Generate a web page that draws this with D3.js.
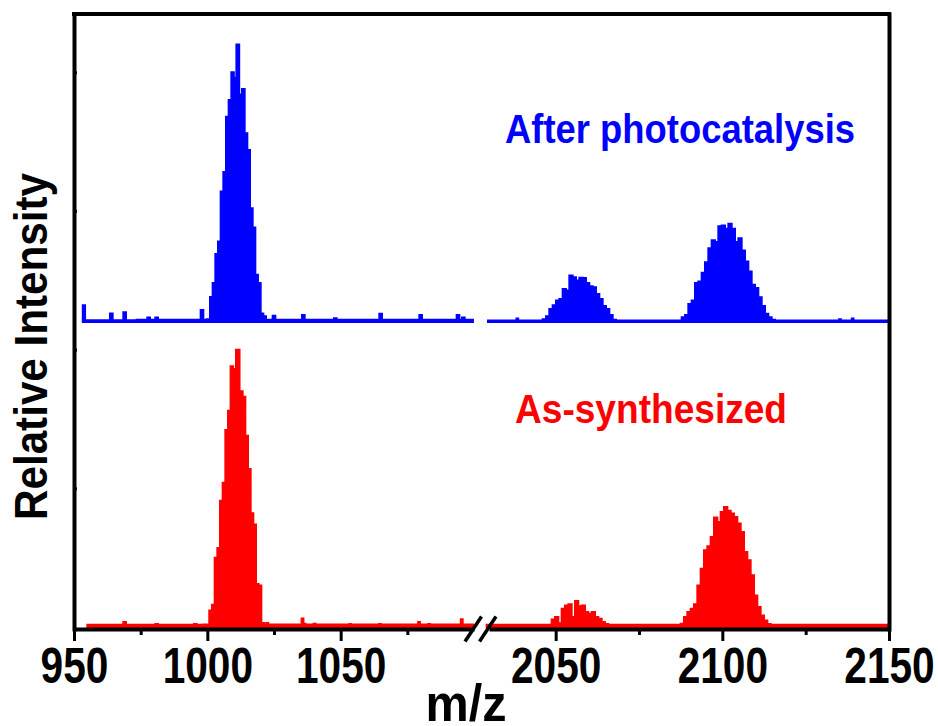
<!DOCTYPE html>
<meta charset="utf-8">

<!-- Load d3.js -->
<script src="https://d3js.org/d3.v7.min.js"></script>

<style>
  body { margin: 0; background: #fff; }
  text { font-family: Arial, "Liberation Sans", sans-serif; font-weight: bold; }
</style>

<!-- Create a div where the graph will take place -->
<div id="my_dataviz"></div>

<script>

// spectra: [m/z, relative intensity in %]
var blueLow = [
  [953.3, 6], [955, 0.6], [963, 0.6], [964, 3], [965, 0.6], [968, 0.6], [969, 3.5], [970, 0.6],
  [977, 0.8], [978, 1.6], [979, 0.8], [980, 0.8], [981, 1.6], [982, 0.8], [997, 0.8], [998, 4.3],
  [999, 0.8], [1000.5, 1], [1001.5, 9], [1002.5, 14], [1003.5, 24.5], [1004.5, 29], [1005.5, 47],
  [1006.5, 54], [1007.5, 74], [1008.5, 80], [1009.5, 90], [1010.4, 88], [1011.4, 100], [1012.5, 82],
  [1013.5, 84], [1014.5, 68], [1015.5, 62], [1016.5, 41], [1017.5, 34], [1018.5, 17], [1019.5, 14],
  [1020.5, 3], [1021.5, 2], [1022.5, 0.8], [1024, 0.8], [1025, 2.2], [1026, 0.8], [1035, 0.8],
  [1036, 2.5], [1037, 0.8], [1047, 0.8], [1048, 1.3], [1049, 0.8], [1064, 0.8], [1065, 2.9],
  [1066, 0.8], [1079, 0.8], [1080, 2.5], [1081, 0.8], [1093, 0.8], [1094, 2.5], [1095, 0.8],
  [1096, 1.6], [1097, 0.8], [1099.6, 0.8]
];

var blueHigh = [
  [2029.7, 0.5], [2038, 0.5], [2038.5, 1.2], [2039, 0.5], [2045.6, 0.5], [2046.6, 1], [2047.6, 2],
  [2048.6, 4.7], [2049.6, 6], [2050.6, 7.7], [2051.6, 8.3], [2052.6, 11.9], [2053.6, 11.3],
  [2054.6, 16.7], [2055.6, 16.1], [2056.6, 14.9], [2057.6, 15.9], [2058.6, 15.8], [2059.6, 14],
  [2060.6, 12.9], [2061.6, 12.5], [2062.6, 10.1], [2063.6, 8.3], [2064.6, 5.7], [2065.6, 4.7],
  [2066.6, 2.5], [2067.6, 0.8], [2068.6, 0.5], [2087.3, 0.5], [2088.3, 1.7], [2089.3, 2.5],
  [2090.3, 6.5], [2091.3, 7.7], [2092.3, 14], [2093.3, 14.6], [2094.3, 17.7], [2095.3, 21.5],
  [2096.3, 26.6], [2097.3, 29.4], [2098.3, 28.8], [2099.3, 34.5], [2100.3, 34.8], [2101.3, 33.6],
  [2102.3, 35.4], [2103.3, 33.6], [2104.3, 28.8], [2105.3, 30.2], [2106.3, 25.7], [2107.3, 21.8],
  [2108.3, 18.2], [2109.3, 13.4], [2110.3, 12.2], [2111.3, 8.9], [2112.3, 5.7], [2113.3, 2.9],
  [2114.3, 1.7], [2115.3, 0.8], [2116.3, 0.5], [2134.8, 0.5], [2135.3, 1], [2135.8, 0.5],
  [2138.6, 0.5], [2139.1, 1.2], [2139.6, 0.5], [2150, 0.5]
];

var redLow = [
  [955, 0.8], [968, 0.8], [969, 1.8], [970, 0.8], [980, 0.8], [981, 1.1], [982, 0.8], [994.5, 0.8],
  [995.5, 1.1], [996.5, 0.8], [1000.2, 0.9], [1001.25, 6], [1002.25, 8], [1003.25, 25], [1004.25, 28.5],
  [1005.25, 45.5], [1006.25, 52], [1007.25, 71], [1008.25, 78], [1009.2, 94], [1010.1, 93],
  [1011.4, 100], [1012.75, 85], [1013.75, 83], [1014.75, 69], [1015.75, 57], [1016.75, 41],
  [1017.75, 37], [1018.75, 15.5], [1019.75, 15], [1020.75, 1.5], [1021.75, 0.9], [1022.5, 1.5],
  [1023.2, 0.9], [1035, 0.9], [1035.7, 3.1], [1036.4, 1.2], [1037.2, 0.9], [1039.5, 0.9],
  [1040.2, 1.2], [1041, 0.9], [1053, 0.9], [1053.6, 1.1], [1054.2, 0.9], [1064, 0.9], [1064.7, 1.1],
  [1065.4, 0.9], [1078.7, 0.9], [1079.4, 1.8], [1080.1, 0.9], [1082.5, 0.9], [1083.2, 1.1],
  [1083.9, 0.9], [1094.7, 0.9], [1095.4, 2.8], [1096.1, 0.9], [1099.6, 0.9]
];

var redHigh = [
  [2029.3, 0.8], [2048.3, 0.8], [2049.3, 2.7], [2050.3, 3.6], [2051.3, 1.4], [2052.3, 6.6],
  [2053.3, 7.8], [2054.3, 8.2], [2055.3, 3.6], [2056.3, 9.4], [2057.3, 7.5], [2058.3, 7.8],
  [2059.3, 5.4], [2060.3, 4.8], [2061.3, 5.4], [2062.3, 3.6], [2063.3, 3], [2064.3, 1.8],
  [2065.3, 1.1], [2066.3, 0.8], [2086, 0.8], [2087, 0.8], [2088, 1.2], [2089, 3.6], [2090, 5.4],
  [2091, 6.6], [2092, 8.2], [2093, 15], [2094, 21], [2095, 27.7], [2096, 29.1], [2097, 32.5],
  [2098, 39.5], [2099, 37.9], [2100, 41.5], [2101, 43.3], [2102, 41.9], [2103, 40.9], [2104, 39.7],
  [2105, 37.3], [2106, 34.3], [2107, 27.1], [2108, 24.1], [2109, 18.7], [2110, 11.4], [2111, 7.2],
  [2112, 4.2], [2113, 2.4], [2114, 1.1], [2115, 0.8], [2150, 0.8]
];

// tick values
var xTicksLow = [950, 1000, 1050], xMinorLow = [975, 1025, 1075];
var xTicksHigh = [2050, 2100, 2150], xMinorHigh = [2075, 2125];
var yTicksLeft = [50, 100, 150, 200];
var yTicksRight = [0, 1, 2, 3, 4];

// stacking offsets of the two spectra
var offsetBlue = 110, offsetRed = 0;

var svg = d3.select("#my_dataviz")
  .append("svg")
    .attr("width", 938)
    .attr("height", 726);

// broken x axis: two scales
var xl = d3.scaleLinear().domain([950, 1100]).range([74, 474]);
var xr = d3.scaleLinear().domain([2030, 2150]).range([489, 889]);
var y = d3.scaleLinear().domain([-0.7, 221]).range([629, 14]);
var y2 = d3.scaleLinear().domain([-1.2, 4.4]).range([629, 14]);

function drawSpectrum(data, x, offset, color) {
  var area = d3.area()
    .curve(d3.curveStep)
    .x(function(d) { return x(d[0]); })
    .y0(y(offset))
    .y1(function(d) { return y(offset + d[1]); });
  svg.append("path")
    .datum(data)
    .attr("d", area)
    .attr("fill", color)
    .attr("stroke", color)
    .attr("stroke-width", 2);
}

drawSpectrum(blueLow, xl, offsetBlue, "#0000ff");
drawSpectrum(blueHigh, xr, offsetBlue, "#0000ff");
drawSpectrum(redLow, xl, offsetRed, "#ff0000");
drawSpectrum(redHigh, xr, offsetRed, "#ff0000");

function styleAxis(g) {
  g.select(".domain").attr("stroke-width", 4).attr("stroke", "#000");
  g.selectAll(".tick line").attr("stroke-width", 3).attr("stroke", "#000");
  g.selectAll("text")
    .attr("y", 54)
    .attr("dy", null)
    .attr("font-size", 50)
    .attr("fill", "#000")
    .attr("textLength", function(d) { return String(d).length * 22.6; })
    .attr("lengthAdjust", "spacingAndGlyphs");
}

// bottom axis, left part
svg.append("g")
  .attr("transform", "translate(0,629)")
  .call(d3.axisBottom(xl).tickValues(xTicksLow).tickFormat(d3.format("d")).tickSize(12).tickSizeOuter(0))
  .call(styleAxis);
svg.append("g")
  .attr("transform", "translate(0,629)")
  .call(d3.axisBottom(xl).tickValues(xMinorLow).tickSize(6).tickFormat(""))
  .call(function(g) { g.select(".domain").remove(); g.selectAll("line").attr("stroke-width", 3); });

// bottom axis, right part
svg.append("g")
  .attr("transform", "translate(0,629)")
  .call(d3.axisBottom(xr).tickValues(xTicksHigh).tickFormat(d3.format("d")).tickSize(12).tickSizeOuter(0))
  .call(styleAxis);
svg.append("g")
  .attr("transform", "translate(0,629)")
  .call(d3.axisBottom(xr).tickValues(xMinorHigh).tickSize(6).tickFormat(""))
  .call(function(g) { g.select(".domain").remove(); g.selectAll("line").attr("stroke-width", 3); });

// left and right frame axes (no labels)
svg.append("g")
  .attr("transform", "translate(74,0)")
  .call(d3.axisRight(y).tickValues(yTicksLeft).tickSize(3).tickSizeOuter(0).tickFormat(""))
  .call(function(g) {
    g.select(".domain").attr("stroke-width", 4).attr("stroke-linecap", "square");
    g.selectAll("line").attr("stroke-width", 3);
  });
svg.append("g")
  .attr("transform", "translate(889,0)")
  .call(d3.axisRight(y2).tickValues(yTicksRight).tickSize(2).tickSizeOuter(0).tickFormat(""))
  .call(function(g) {
    g.select(".domain").attr("stroke-width", 4).attr("stroke-linecap", "square");
    g.selectAll("line").attr("stroke-width", 3);
  });

// top frame line
svg.append("line")
  .attr("x1", xl.range()[0]).attr("x2", xr.range()[1])
  .attr("y1", y.range()[1]).attr("y2", y.range()[1])
  .attr("stroke", "#000").attr("stroke-width", 4).attr("stroke-linecap", "square");

// axis break marks //
var mid = (xl(1100) + xr(2030)) / 2;
[-16.5, -2].forEach(function(dx) {
  svg.append("line")
    .attr("x1", mid + dx).attr("y1", 641.5)
    .attr("x2", mid + dx + 16.5).attr("y2", 616.5)
    .attr("stroke", "#000").attr("stroke-width", 3.5);
});

// series labels
svg.append("text")
  .attr("x", 505).attr("y", 143)
  .attr("font-size", 41)
  .attr("fill", "#0000ff")
  .attr("textLength", 350).attr("lengthAdjust", "spacingAndGlyphs")
  .text("After photocatalysis");

svg.append("text")
  .attr("x", 515).attr("y", 423)
  .attr("font-size", 40)
  .attr("fill", "#ff0000")
  .attr("textLength", 272).attr("lengthAdjust", "spacingAndGlyphs")
  .text("As-synthesized");

// axis titles
svg.append("text")
  .attr("x", 466).attr("y", 721)
  .attr("text-anchor", "middle")
  .attr("font-size", 52)
  .attr("textLength", 81).attr("lengthAdjust", "spacingAndGlyphs")
  .text("m/z");

svg.append("text")
  .attr("transform", "translate(47,346.5) rotate(-90)")
  .attr("text-anchor", "middle")
  .attr("font-size", 46)
  .attr("textLength", 347).attr("lengthAdjust", "spacingAndGlyphs")
  .text("Relative Intensity");

</script>
